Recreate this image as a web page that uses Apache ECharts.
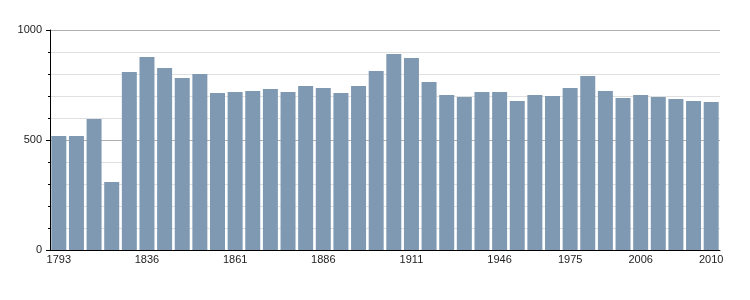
<!DOCTYPE html>
<html>
<head>
<meta charset="utf-8">
<script src="https://cdn.jsdelivr.net/npm/echarts@6/dist/echarts.min.js"></script>
<style>
html,body{margin:0;padding:0;background:#fff;}
#chart{width:750px;height:300px;}
</style>
</head>
<body>
<div id="chart"></div>
<script>
const years = ['1793','1800','1806','1821','1831','1836','1841','1846','1851','1856','1861','1866','1872','1876','1881','1886','1891','1896','1901','1906','1911','1921','1926','1931','1936','1946','1954','1962','1968','1975','1982','1990','1999','2006','2007','2008','2009','2010'];
const population = [518,518,595,309,809,877,827,782,800,714,718,723,732,718,745,736,714,745,814,891,873,764,705,695,718,718,677,705,700,736,791,723,691,705,695,686,677,673];
const labelledYears = ['1793','1836','1861','1886','1911','1946','1975','2006','2010'];
const yTicks = [0, 500, 1000];

const chart = echarts.init(document.getElementById('chart'), null, {renderer:'canvas'});
chart.setOption({
  animation: false,
  backgroundColor: '#ffffff',
  textStyle: {fontFamily: 'Liberation Sans', color: '#222'},
  grid: {left: 50, right: 30, top: 30, bottom: 50, containLabel: false},
  xAxis: {
    type: 'category',
    data: years,
    axisLine: {show: true, lineStyle: {color: '#000', width: 1}},
    axisTick: {show: false},
    axisLabel: {
      interval: function(i, v){ return labelledYears.indexOf(v) >= 0; },
      color: '#222', fontSize: 11, margin: 4, fontFamily: 'Liberation Sans'
    },
    splitLine: {show: false}
  },
  yAxis: {
    type: 'value',
    min: yTicks[0], max: yTicks[yTicks.length-1], interval: 500,
    axisLine: {show: true, lineStyle: {color: '#000', width: 1}},
    axisTick: {show: true, length: 4, lineStyle: {color: '#000'}},
    minorTick: {show: true, splitNumber: 5, length: 2, lineStyle: {color: '#000'}},
    axisLabel: {color: '#222', fontSize: 11, margin: 8, fontFamily: 'Liberation Sans',
      formatter: function(v){ return String(v); }},
    splitLine: {show: true, lineStyle: {color: '#b0b0b0', width: 1}},
    minorSplitLine: {show: true, lineStyle: {color: '#e0e0e0', width: 1}}
  },
  series: [{
    type: 'bar',
    data: population,
    barCategoryGap: '15%',
    itemStyle: {color: '#7f99b2'},
    z: 1
  }]
});
</script>
</body>
</html>
